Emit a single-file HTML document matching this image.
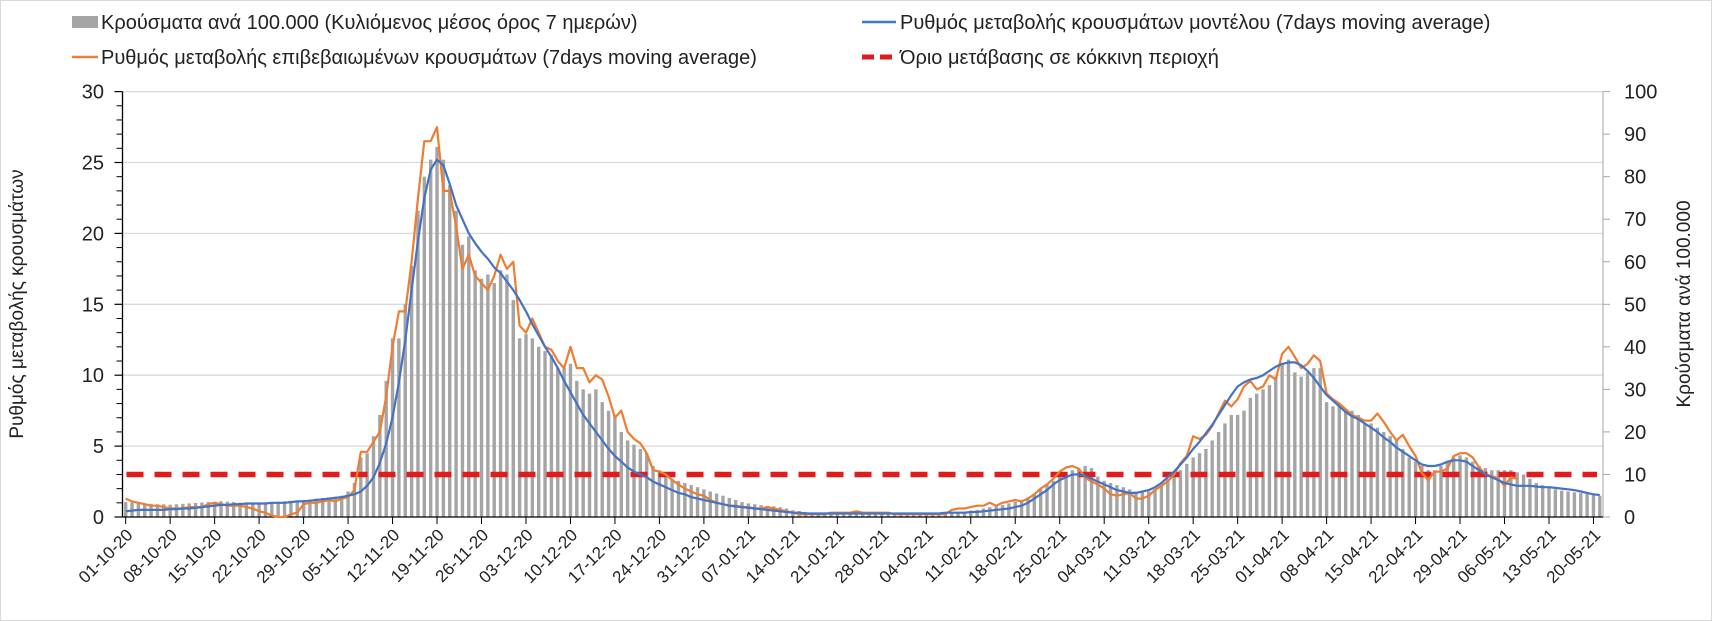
<!DOCTYPE html>
<html><head><meta charset="utf-8"><style>
body{margin:0;background:#fff}
svg{display:block;font-family:"Liberation Sans",sans-serif}
</style></head><body>
<svg id="chart" width="1712" height="621" viewBox="0 0 1712 621">
<rect x="0.5" y="0.5" width="1711" height="620" fill="#fff" stroke="#d9d9d9"/>
<g id="grid"></g>
<g id="bars"></g>
<g id="axes"></g>
<g id="lines"></g>
<g font-size="20" fill="#222">
 <g><rect x="72" y="16" width="26" height="12" fill="#a5a5a5"/><text x="101" y="29">Κρούσματα ανά 100.000 (Κυλιόμενος μέσος όρος 7 ημερών)</text></g>
 <g><line x1="72" y1="57" x2="98" y2="57" stroke="#ed7d31" stroke-width="2.5"/><text x="101" y="64">Ρυθμός μεταβολής επιβεβαιωμένων κρουσμάτων (7days moving average)</text></g>
 <g><line x1="862" y1="22" x2="896" y2="22" stroke="#4472c4" stroke-width="2.5"/><text x="900" y="29">Ρυθμός μεταβολής κρουσμάτων μοντέλου (7days moving average)</text></g>
 <g><line x1="862" y1="57" x2="896" y2="57" stroke="#e01b1b" stroke-width="5" stroke-dasharray="12 6"/><text x="900" y="64">Όριο μετάβασης σε κόκκινη περιοχή</text></g>
</g>
<text transform="translate(23,304) rotate(-90)" text-anchor="middle" font-size="19" fill="#222">Ρυθμός μεταβολής κρουσμάτων</text>
<text transform="translate(1690,304) rotate(-90)" text-anchor="middle" font-size="19" fill="#222">Κρούσματα ανά 100.000</text>
</svg>
<script>
const bars = [
3.5,3.4,3.3,3.2,3.1,3.0,3.0, 2.9,3.0,3.1,3.2,3.3,3.4,3.5, 3.6,3.7,3.6,3.5,3.4,3.3,3.3, 3.3,3.4,3.5,3.6,3.7,3.8,3.9,
4.0,4.1,4.3,4.5,4.6,4.8,5.0, 6,8,14,15,19,24,32, 42,42,50,59,72,80,84, 87,84,78,72,64,66,58,
56,57,55,58,57,51,42, 43,42,40,39,38,35,35, 36,32,30,29,30,27,25, 24,20,18,17,16,15,12,
11,10,9,8.5,8,7.5,7, 6.5,6,5.5,5,4.5,4,3.5, 3.2,3,2.8,2.6,2.5,2.3,2.0, 1.6,1.4,1.2,1.0,1.0,1.0,1.0,
1.1,1.1,1.1,1.1,1.1,1.1,1.1, 1.0,1.0,0.9,0.9,0.8,0.8,0.8, 0.8,0.8,0.8,0.9,1.0,1.1,1.2, 1.5,1.7,2.0,2.3,2.5,2.8,3.2,
3.6,4.0,4.6,5.5,6.5,7.5,8.5, 9.5,10.5,11,11.5,12,11.5,9.5, 8.5,8.0,7.5,7.0,6.5,6.0,6.0, 6.0,6.5,7.5,9,10,11,12.5,
14,15,16,18,20,22,24, 24,25,28,29,30,31,33, 36,37,34,33,34,35,35, 27,26,26,25,25,24,22,
22,21,20,19,18,16,14, 13,12,11,11,12,13,14, 14.5,14,13,12,11.5,11,11, 11,11,10.5,10,9,8,7.5,
7,6.5,6.2,6,5.8,5.6,5.4, 5.2,5.0];
const confirmedRate = [
1.3,1.1,1.0,0.9,0.8,0.8,0.7, 0.6,0.6,0.6,0.7,0.7,0.7,0.9, 1.0,0.9,0.8,0.8,0.8,0.7,0.6, 0.4,0.3,0.1,0.0,0.0,0.2,0.3,
0.9,1.0,1.0,1.1,1.2,1.1,1.3, 1.4,1.9,4.6,4.6,5.3,6.0,8.5, 12,14.5,14.5,18,22.5,26.5,26.5, 27.5,23,23,20.5,17.5,18.5,17,
16.5,16,17,18.5,17.5,18.0,13.5, 13,14,13,12,11.8,11,10.5, 12,10.5,10.5,9.5,10,9.7,8.5, 7,7.5,6,5.5,5.2,4.5,3.3,
3.2,3.0,2.6,2.3,2.0,1.8,1.6, 1.5,1.2,1.0,0.9,0.8,0.8,0.7, 0.7,0.6,0.6,0.7,0.6,0.5,0.4, 0.3,0.2,0.2,0.2,0.2,0.2,0.3,
0.3,0.3,0.3,0.4,0.3,0.3,0.3, 0.3,0.3,0.2,0.2,0.2,0.2,0.2, 0.2,0.2,0.2,0.2,0.5,0.6,0.6, 0.7,0.8,0.8,1.0,0.8,1.0,1.1,
1.2,1.1,1.3,1.6,2.0,2.3,2.7, 3.2,3.5,3.6,3.4,2.8,2.5,2.3, 2.0,1.6,1.5,1.6,1.7,1.3,1.3, 1.5,1.9,2.2,2.5,3.0,3.8,4.3,
5.7,5.5,5.8,6.4,7.3,8.2,7.8, 8.3,9.2,9.6,9.0,9.2,10.0,9.7, 11.5,12.0,11.3,10.5,10.8,11.4,11.0, 8.7,8.3,8.0,7.6,7.2,7.0,6.8,
6.8,7.3,6.7,6.0,5.4,5.8,5.0, 4.3,3.1,2.6,3.2,3.2,3.4,4.3, 4.5,4.5,4.2,3.5,3.0,2.9,2.7, 2.2,2.8,2.7];
const modelRate = [
0.4,0.45,0.5,0.5,0.5,0.5,0.5, 0.55,0.55,0.6,0.6,0.65,0.7,0.75, 0.8,0.85,0.85,0.9,0.9,0.95,0.95, 0.95,0.95,1.0,1.0,1.0,1.05,1.1,
1.1,1.15,1.2,1.25,1.3,1.35,1.4, 1.5,1.6,1.8,2.2,2.8,3.8,5.2, 7,9.5,12.5,16,19.5,22.5,24.5, 25.2,24.8,23.5,22,21,20,19.3,
18.7,18.2,17.6,17.2,16.6,16,15.3, 14.5,13.6,12.8,12,11.3,10.5,9.6, 8.8,8,7.2,6.6,6,5.4,4.8, 4.3,3.9,3.5,3.2,3.0,2.8,2.5,
2.3,2.1,1.9,1.7,1.6,1.4,1.3, 1.2,1.1,1.0,0.9,0.8,0.75,0.7, 0.65,0.6,0.55,0.5,0.45,0.4,0.35, 0.3,0.3,0.25,0.25,0.25,0.25,0.25,
0.25,0.25,0.25,0.25,0.25,0.25,0.25, 0.25,0.25,0.25,0.25,0.25,0.25,0.25, 0.25,0.25,0.25,0.3,0.3,0.3,0.3, 0.35,0.35,0.4,0.45,0.5,0.55,0.6,
0.7,0.8,1.0,1.3,1.6,1.9,2.3, 2.6,2.8,3.0,3.0,2.9,2.7,2.5, 2.3,2.1,1.9,1.8,1.7,1.7,1.8, 1.9,2.1,2.4,2.8,3.2,3.7,4.2,
4.8,5.3,5.9,6.5,7.2,7.9,8.6, 9.2,9.5,9.7,9.8,10.0,10.3,10.6, 10.8,10.9,10.9,10.7,10.3,9.8,9.2, 8.6,8.2,7.8,7.4,7.1,6.9,6.6,
6.3,6.0,5.6,5.3,4.9,4.6,4.3, 4.0,3.7,3.6,3.6,3.7,3.9,4.0, 4.0,3.9,3.6,3.3,3.0,2.8,2.6, 2.4,2.3,2.2,2.2,2.2,2.15,2.1,
2.1,2.05,2.0,1.95,1.9,1.8,1.7, 1.6,1.55];
const threshold = 3;
const leftTicks = [0,5,10,15,20,25,30];
const rightTicks = [0,10,20,30,40,50,60,70,80,90,100];
const dateLabels = ["01-10-20","08-10-20","15-10-20","22-10-20","29-10-20","05-11-20","12-11-20","19-11-20","26-11-20","03-12-20","10-12-20","17-12-20","24-12-20","31-12-20","07-01-21","14-01-21","21-01-21","28-01-21","04-02-21","11-02-21","18-02-21","25-02-21","04-03-21","11-03-21","18-03-21","25-03-21","01-04-21","08-04-21","15-04-21","22-04-21","29-04-21","06-05-21","13-05-21","20-05-21"];

const NS="http://www.w3.org/2000/svg";
const X0=122.5,X1=1603,YT=91.6,YB=517,N=233;
const step=(X1-X0)/N;
const xPos=i=>X0+(i+0.5)*step;
const yL=v=>YB-(v/30)*(YB-YT);
const yR=v=>YB-(v/100)*(YB-YT);
function mk(tag,attrs,parent){const e=document.createElementNS(NS,tag);for(const k in attrs)e.setAttribute(k,attrs[k]);parent.appendChild(e);return e;}
const grid=document.getElementById('grid'),barsG=document.getElementById('bars'),axes=document.getElementById('axes'),lines=document.getElementById('lines');

leftTicks.forEach(v=>{
  if(v>0){const g=mk('line',{x1:X0,x2:X1,y1:yL(v),y2:yL(v),stroke:'#d9d9d9','stroke-width':1.3},grid);
  
  }
  const t=mk('text',{x:104,y:yL(v)+7,'text-anchor':'end','font-size':20,fill:'#222'},axes);t.textContent=v;
  
  
  mk('line',{x1:X0-8,x2:X0,y1:yL(v),y2:yL(v),stroke:'#000','stroke-width':1.2},axes);
});
for(let m=0;m<=30;m++){ if(m%5) mk('line',{x1:X0-6,x2:X0,y1:yL(m),y2:yL(m),stroke:'#000','stroke-width':1},axes); }
rightTicks.forEach(v=>{
  const t=mk('text',{x:1624,y:yR(v)+7,'font-size':20,fill:'#222'},axes);t.textContent=v;
  
  
  mk('line',{x1:X1,x2:X1+7,y1:yR(v),y2:yR(v),stroke:'#a6a6a6','stroke-width':1},axes);
});
mk('line',{x1:X1,x2:X1,y1:YT,y2:YB,stroke:'#a6a6a6','stroke-width':1},axes);

bars.forEach((v,i)=>{
  const r=mk('rect',{x:xPos(i)-1.7,y:yR(v),width:3.4,height:YB-yR(v),fill:'#a5a5a5'},barsG);
  
  
});

mk('line',{x1:X0,x2:X0,y1:YT,y2:YB,stroke:'#000','stroke-width':1.3},axes);
mk('line',{x1:X0,x2:X1,y1:YB,y2:YB,stroke:'#000','stroke-width':1.3},axes);
dateLabels.forEach((d,k)=>{
  const x=xPos(k*7);
  mk('line',{x1:x,x2:x,y1:YB,y2:YB+7,stroke:'#000','stroke-width':1},axes);
  const ax=x+8, ay=YB+19;
  const t=mk('text',{x:ax,y:ay,'text-anchor':'end','font-size':17,fill:'#222',transform:`rotate(-45 ${ax} ${ay})`},axes);
  t.textContent=d;
  
  
});

const th=mk('line',{x1:X0+4,x2:X1-6,y1:yL(threshold),y2:yL(threshold),stroke:'#e01b1b','stroke-width':5.5,'stroke-dasharray':'17 11'},lines);


function path(arr,color,name){
  const d=arr.map((v,i)=>(i?'L':'M')+xPos(i).toFixed(1)+' '+yL(v).toFixed(1)).join(' ');
  const p=mk('path',{d:d,fill:'none',stroke:color,'stroke-width':2.2,'stroke-linejoin':'round'},lines);
  
  
}
path(confirmedRate,'#ed7d31','confirmed-rate-line');
path(modelRate,'#4472c4','model-rate-line');
</script>
</body></html>
